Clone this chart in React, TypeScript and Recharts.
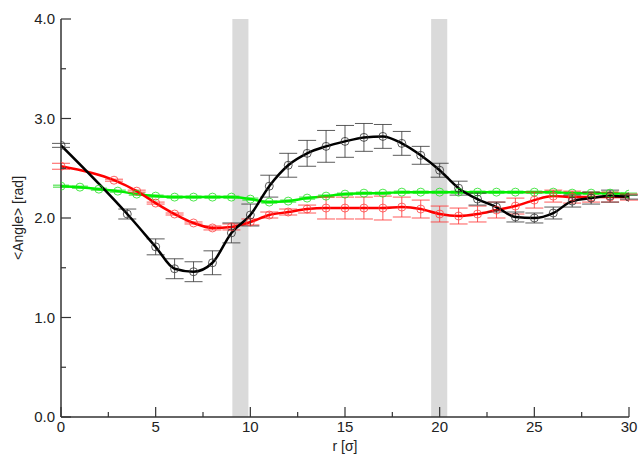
import React from "react";
import {
  LineChart,
  Line,
  XAxis,
  YAxis,
  ErrorBar,
  ReferenceArea,
  Label,
} from "recharts";

const greenX = [0, 1, 2, 3, 4, 5, 6, 7, 8, 9, 10, 11, 12, 13, 14, 15, 16, 17, 18, 19, 20, 21, 22, 23, 24, 25, 26, 27, 28, 29, 30];
const greenY = [2.32, 2.31, 2.29, 2.27, 2.24, 2.22, 2.21, 2.21, 2.21, 2.21, 2.19, 2.16, 2.17, 2.2, 2.22, 2.24, 2.25, 2.25, 2.26, 2.26, 2.26, 2.26, 2.26, 2.26, 2.26, 2.26, 2.26, 2.25, 2.25, 2.25, 2.24];
const greenE = [0.01, 0.01, 0.01, 0.01, 0.01, 0.01, 0.01, 0.01, 0.01, 0.01, 0.01, 0.01, 0.01, 0.01, 0.01, 0.01, 0.01, 0.01, 0.01, 0.01, 0.01, 0.01, 0.01, 0.01, 0.01, 0.01, 0.01, 0.01, 0.01, 0.01, 0.01];

const redX = [0, 2.8, 4, 5, 6, 7, 8, 9, 10, 11, 12, 13, 14, 15, 16, 17, 18, 19, 20, 21, 22, 23, 24, 25, 26, 27, 28, 29, 30];
const redY = [2.52, 2.38, 2.27, 2.15, 2.04, 1.95, 1.9, 1.91, 1.96, 2.03, 2.06, 2.09, 2.1, 2.1, 2.1, 2.1, 2.11, 2.09, 2.04, 2.02, 2.04, 2.08, 2.12, 2.18, 2.22, 2.21, 2.21, 2.21, 2.21];
const redE = [0.03, 0.01, 0.01, 0.01, 0.01, 0.01, 0.02, 0.03, 0.03, 0.03, 0.03, 0.04, 0.11, 0.11, 0.11, 0.12, 0.1, 0.09, 0.08, 0.08, 0.08, 0.08, 0.08, 0.08, 0.06, 0.06, 0.05, 0.05, 0.03];

const blackX = [0, 3.5, 5, 6, 7, 8, 9, 10, 11, 12, 13, 14, 15, 16, 17, 18, 19, 20, 21, 22, 23, 24, 25, 26, 27, 28, 29, 30];
const blackY = [2.73, 2.04, 1.71, 1.49, 1.46, 1.55, 1.85, 2.03, 2.32, 2.53, 2.65, 2.72, 2.77, 2.81, 2.82, 2.75, 2.63, 2.48, 2.3, 2.19, 2.11, 2.01, 2.0, 2.05, 2.17, 2.2, 2.22, 2.21];
const blackE = [0.02, 0.05, 0.08, 0.1, 0.1, 0.12, 0.1, 0.11, 0.11, 0.12, 0.13, 0.16, 0.16, 0.14, 0.12, 0.12, 0.09, 0.07, 0.07, 0.06, 0.05, 0.05, 0.05, 0.06, 0.06, 0.06, 0.06, 0.02];

const bands = [
  [9.05, 9.9],
  [19.55, 20.4],
];

const xTicks = [0, 2.5, 5, 7.5, 10, 12.5, 15, 17.5, 20, 22.5, 25, 27.5, 30];
const yTicks = [0, 0.5, 1, 1.5, 2, 2.5, 3, 3.5, 4];

const build = (xs: number[], ys: number[], es: number[]) =>
  xs.map((x, i) => ({ x, y: ys[i], e: es[i] }));

const greenData = build(greenX, greenY, greenE);
const redData = build(redX, redY, redE);
const blackData = build(blackX, blackY, blackE);

const FONT = "'Liberation Sans', Arial, Helvetica, sans-serif";
const AX = "#333333";

const isMajorX = (v: number) => Math.abs(v % 5) < 1e-6;
const isMajorY = (v: number) => Math.abs(v % 1) < 1e-6;

const BottomTick = (props: any) => {
  const { x, y, payload } = props;
  const major = isMajorX(payload.value);
  return (
    <g>
      <line x1={x} x2={x} y1={y} y2={y - (major ? 10 : 5)} stroke={AX} strokeWidth={1.2} />
      {major && (
        <text x={x} y={y + 15} textAnchor="middle" fontFamily={FONT} fontSize={15} fill="#222">
          {payload.value}
        </text>
      )}
    </g>
  );
};

const TopTick = (props: any) => {
  const { x, y, payload } = props;
  const major = isMajorX(payload.value);
  return <line x1={x} x2={x} y1={y} y2={y + (major ? 10 : 5)} stroke={AX} strokeWidth={1.2} />;
};

const LeftTick = (props: any) => {
  const { x, y, payload } = props;
  const major = isMajorY(payload.value);
  return (
    <g>
      <line x1={x} x2={x + (major ? 10 : 5)} y1={y} y2={y} stroke={AX} strokeWidth={1.2} />
      {major && (
        <text x={x - 6} y={y + 5} textAnchor="end" fontFamily={FONT} fontSize={15} fill="#222">
          {payload.value.toFixed(1)}
        </text>
      )}
    </g>
  );
};

const RightTick = (props: any) => {
  const { x, y, payload } = props;
  const major = isMajorY(payload.value);
  return <line x1={x} x2={x - (major ? 10 : 5)} y1={y} y2={y} stroke={AX} strokeWidth={1.2} />;
};

export default function App() {
  return (
    <div style={{ position: "absolute", left: 0, top: 0 }}>
      <LineChart width={640} height={456} margin={{ top: 19, right: 11, bottom: 0, left: 0 }}>
        <XAxis
          xAxisId="b"
          dataKey="x"
          type="number"
          domain={[0, 30]}
          ticks={xTicks}
          interval={0}
          height={39}
          tickSize={0}
          tickMargin={0}
          tickLine={false}
          tick={BottomTick}
          axisLine={{ stroke: AX, strokeWidth: 1.5 }}
          allowDataOverflow
        >
          <Label
            content={(p: any) => {
              const vb = p.viewBox;
              return (
                <text x={vb.x + vb.width / 2} y={vb.y + 34} textAnchor="middle" fontFamily={FONT} fontSize={14} fill="#222">
                  r [σ]
                </text>
              );
            }}
          />
        </XAxis>
        <XAxis
          xAxisId="t"
          orientation="top"
          dataKey="x"
          type="number"
          domain={[0, 30]}
          ticks={xTicks}
          interval={0}
          height={0}
          tickSize={0}
          tickMargin={0}
          tickLine={false}
          tick={TopTick}
          axisLine={{ stroke: AX, strokeWidth: 1.5 }}
        />
        <YAxis
          yAxisId="l"
          type="number"
          domain={[0, 4]}
          ticks={yTicks}
          interval={0}
          width={61}
          tickSize={0}
          tickMargin={0}
          tickLine={false}
          tick={LeftTick}
          axisLine={{ stroke: AX, strokeWidth: 1.5 }}
          allowDataOverflow
        >
          <Label
            content={(p: any) => {
              const vb = p.viewBox;
              const cx = vb.x + 23;
              const cy = vb.y + vb.height / 2;
              return (
                <text
                  x={cx}
                  y={cy}
                  textAnchor="middle"
                  transform={`rotate(-90 ${cx} ${cy})`}
                  fontFamily={FONT}
                  fontSize={14}
                  fill="#222"
                >
                  {"<Angle> [rad]"}
                </text>
              );
            }}
          />
        </YAxis>
        <YAxis
          yAxisId="r"
          orientation="right"
          type="number"
          domain={[0, 4]}
          ticks={yTicks}
          interval={0}
          width={0}
          tickSize={0}
          tickMargin={0}
          tickLine={false}
          tick={RightTick}
          axisLine={{ stroke: AX, strokeWidth: 1.5 }}
        />
        {bands.map((b, i) => (
          <ReferenceArea
            key={i}
            xAxisId="b"
            yAxisId="l"
            x1={b[0]}
            x2={b[1]}
            y1={0}
            y2={4}
            fill="#dadada"
            fillOpacity={1}
            stroke="none"
            ifOverflow="visible"
          />
        ))}
        <Line
          xAxisId="b"
          yAxisId="l"
          data={greenData}
          dataKey="y"
          type="monotone"
          stroke="#00f000"
          strokeWidth={2.5}
          dot={{ r: 4, fill: "none", stroke: "#22e022", strokeWidth: 1, strokeOpacity: 0.8 }}
          isAnimationActive={false}
        >
          <ErrorBar dataKey="e" width={8} stroke="#33dd33" strokeWidth={1} direction="y" />
        </Line>
        <Line
          xAxisId="b"
          yAxisId="l"
          data={redData}
          dataKey="y"
          type="monotone"
          stroke="#ff0000"
          strokeWidth={2.5}
          dot={{ r: 4, fill: "none", stroke: "#ff4040", strokeWidth: 1, strokeOpacity: 0.8 }}
          isAnimationActive={false}
        >
          <ErrorBar dataKey="e" width={9} stroke="#ff3030" strokeOpacity={0.8} strokeWidth={1} direction="y" />
        </Line>
        <Line
          xAxisId="b"
          yAxisId="l"
          data={blackData}
          dataKey="y"
          type="monotone"
          stroke="#000000"
          strokeWidth={2.5}
          dot={{ r: 4, fill: "none", stroke: "#333", strokeWidth: 1, strokeOpacity: 0.8 }}
          isAnimationActive={false}
        >
          <ErrorBar dataKey="e" width={9} stroke="#333" strokeOpacity={0.8} strokeWidth={1} direction="y" />
        </Line>
      </LineChart>
    </div>
  );
}
